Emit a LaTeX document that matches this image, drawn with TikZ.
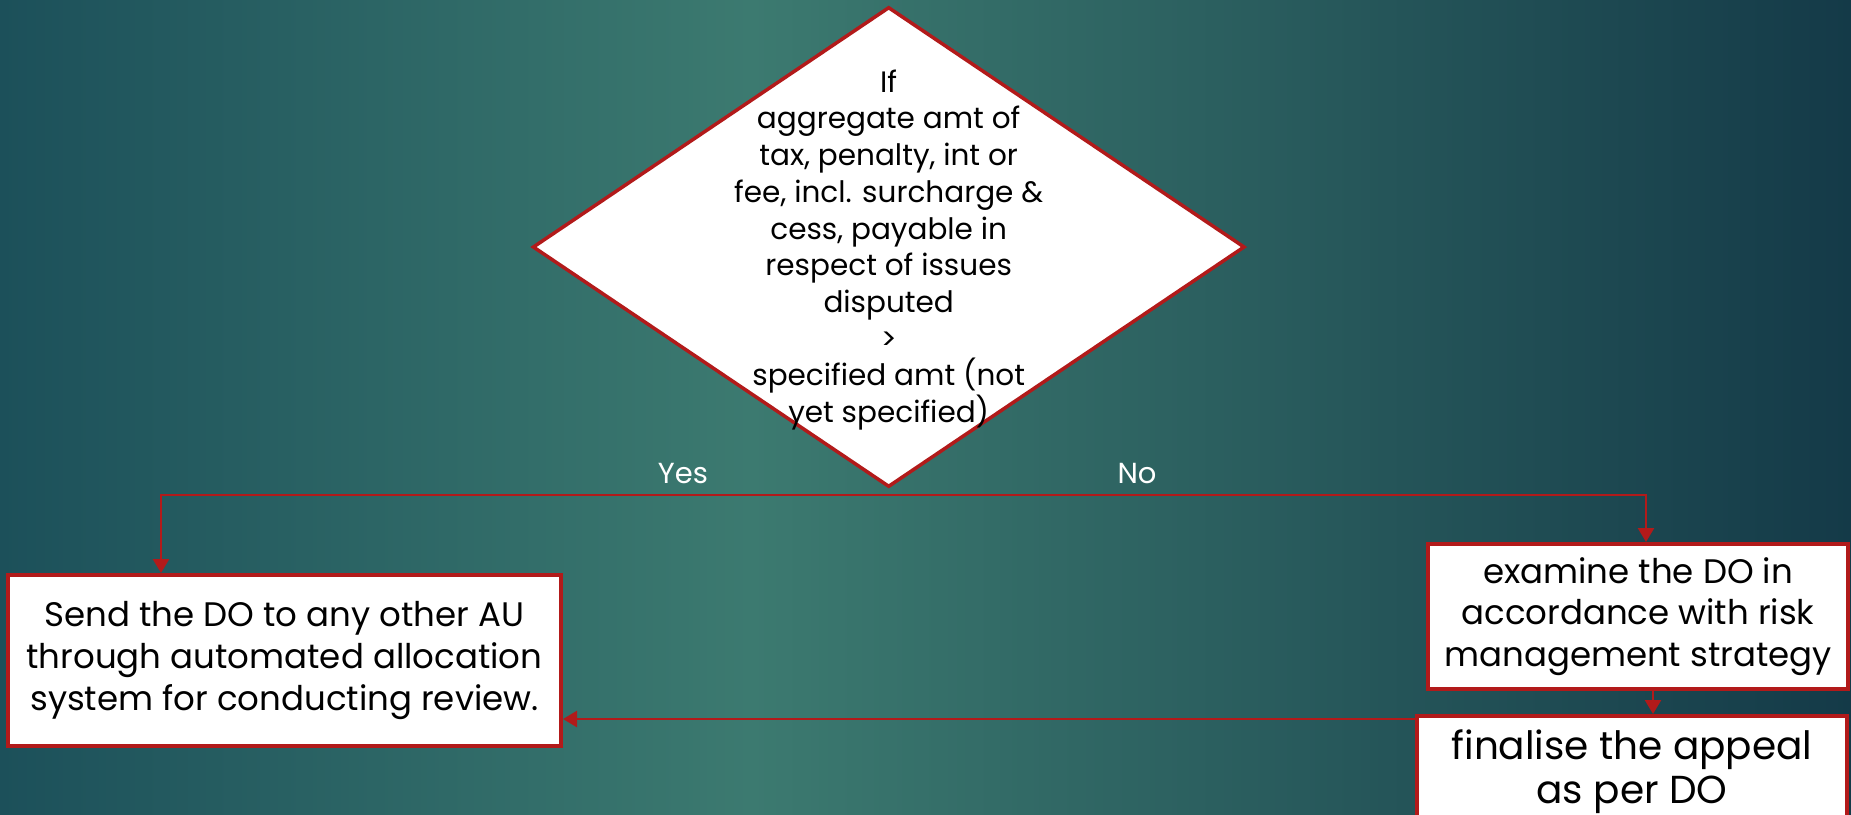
\documentclass[tikz,border=0pt]{standalone}
\usepackage{fontspec}
\setmainfont{Poppins}
\usetikzlibrary{shapes.geometric,arrows.meta}
\definecolor{flowred}{RGB}{178,26,26}
\definecolor{bgleft}{RGB}{28,80,90}
\definecolor{bgmid}{RGB}{60,122,112}
\definecolor{bgright}{RGB}{20,58,72}
\begin{document}
\begin{tikzpicture}[x=1pt,y=-1pt,
  box/.style={draw=flowred,line width=4pt,fill=white,align=center,inner sep=0pt},
  decision/.style={diamond,draw=flowred,line width=3.5pt,fill=white,inner sep=0pt},
  arr/.style={draw=flowred,line width=2.5pt,-{Triangle[length=14pt,width=16pt]}}]
\useasboundingbox (0,0) rectangle (1851,814);
% background
\shade[left color=bgleft,right color=bgmid] (0,0) rectangle (751,814);
\shade[left color=bgmid,right color=bgright] (750,0) rectangle (1851,814);
% decision
\node[decision,minimum width=712pt,minimum height=480pt] (dec) at (888.7,247) {};
\node[align=center,font=\fontsize{29.5}{36.7}\selectfont] (cond) at (888.7,250)
  {If\\aggregate amt of\\tax, penalty, int or\\fee, incl. surcharge \&\\cess, payable in\\respect of issues\\disputed\\>\\specified amt (not\\yet specified)};
\node[white,font=\fontsize{29}{35}\selectfont] (yes) at (683,473.5) {Yes};
\node[white,font=\fontsize{29}{35}\selectfont] (no) at (1137,473.5) {No};
% boxes
\node[box,minimum width=553pt,minimum height=171pt,font=\fontsize{34}{41.7}\selectfont] (send) at (284.5,660.5)
  {Send the DO to any other AU\\through automated allocation\\system for conducting review.};
\node[box,minimum width=420pt,minimum height=145pt,font=\fontsize{34}{41.7}\selectfont] (exam) at (1638,616.5)
  {examine the DO in\\accordance with risk\\management strategy};
\node[box,minimum width=430pt,minimum height=112pt,font=\fontsize{39}{44}\selectfont] (fin) at (1632,772)
  {finalise the appeal\\as per DO};
% connectors
\coordinate (fork) at (888.7,495);
\draw[arr] (fork) -| ([xshift=-123.5pt]send.north);
\draw[arr] (fork) -| ([xshift=8pt]exam.north);
\draw[arr] ([xshift=15pt]exam.south) -- ([xshift=15pt]exam.south |- fin.north);
\coordinate (finin) at ([yshift=-5pt]fin.north west);
\draw[arr] (finin) -- (finin -| send.east);
\end{tikzpicture}
\end{document}
